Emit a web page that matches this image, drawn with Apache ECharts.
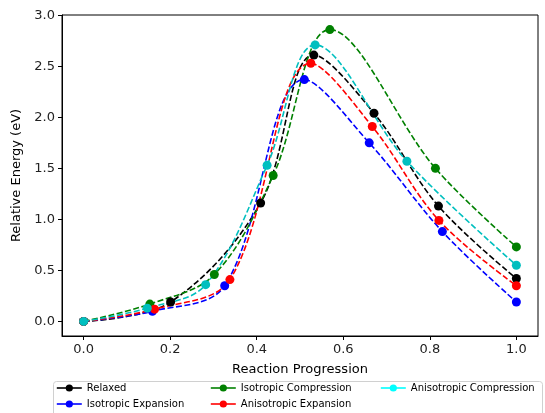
<!DOCTYPE html>
<html>
<head>
    <meta charset="utf-8">
    <title>Reaction energy profile</title>
    <script src="https://cdn.jsdelivr.net/npm/echarts@6/dist/echarts.min.js"></script>
    <style>
        body { margin: 0; background: #fff; }
    </style>
</head>
<body>
    <div id="main" style="width: 545px;height:413px;"></div>
    <script type="text/javascript">
        // series names (legend order, column by column)
        const names = ['Relaxed', 'Isotropic Expansion', 'Isotropic Compression', 'Anisotropic Expansion', 'Anisotropic Compression']
        const colors = ['#000000', '#0000ff', '#008000', '#ff0000', '#00bfbf']
        const legendColors = ['#000000', '#0000ff', '#008000', '#ff0000', '#00ffff']

        // reaction coordinate (x) and relative energy (y)
        const relaxedX = [0, 0.201, 0.409, 0.532, 0.671, 0.820, 1.0]
        const relaxedY = [0, 0.19, 1.16, 2.61, 2.04, 1.13, 0.42]
        const isoExpX = [0, 0.159, 0.326, 0.510, 0.660, 0.829, 1.0]
        const isoExpY = [0, 0.10, 0.35, 2.37, 1.75, 0.88, 0.19]
        const isoCompX = [0, 0.153, 0.302, 0.438, 0.569, 0.813, 1.0]
        const isoCompY = [0, 0.17, 0.46, 1.43, 2.86, 1.50, 0.73]
        const anisoExpX = [0, 0.164, 0.338, 0.525, 0.667, 0.821, 1.0]
        const anisoExpY = [0, 0.12, 0.41, 2.53, 1.91, 0.99, 0.35]
        const anisoCompX = [0, 0.147, 0.282, 0.424, 0.535, 0.747, 1.0]
        const anisoCompY = [0, 0.13, 0.36, 1.53, 2.71, 1.57, 0.55]

        const xTicks = [0, 0.2, 0.4, 0.6, 0.8, 1.0]
        const yTicks = [0, 0.5, 1.0, 1.5, 2.0, 2.5, 3.0]

        const allX = [relaxedX, isoExpX, isoCompX, anisoExpX, anisoCompX]
        const allY = [relaxedY, isoExpY, isoCompY, anisoExpY, anisoCompY]

        let myChart = echarts.init(document.getElementById('main'));

        let series = names.map(function (n, i) {
            return {
                name: n,
                type: 'line',
                smooth: 0.35,
                symbol: 'circle',
                symbolSize: 9,
                showAllSymbol: true,
                itemStyle: { color: colors[i] },
                lineStyle: { color: colors[i], width: 1.6, type: [6, 2.5] },
                emphasis: { disabled: true },
                data: allX[i].map(function (x, k) { return [x, allY[i][k]] })
            }
        })

        const font = 'DejaVu Sans'
        function legendItem(i) {
            return { name: names[i], itemStyle: { color: legendColors[i] }, lineStyle: { color: legendColors[i], type: 'solid', width: 1.6 } }
        }
        const legendBase = {
            orient: 'vertical',
            top: 383,
            padding: 0,
            itemWidth: 25,
            itemHeight: 9,
            itemGap: 6,
            textStyle: { fontFamily: font, fontSize: 10, color: '#000' },
            lineStyle: { type: 'solid' },
            selectedMode: false
        }

        let option = {
            animation: false,
            textStyle: { fontFamily: font },
            grid: {
                left: 62, right: 7, top: 15, bottom: 77,
                show: true, borderColor: '#000', borderWidth: 1
            },
            legend: [
                Object.assign({}, legendBase, { left: 56, data: [legendItem(0), legendItem(1)] }),
                Object.assign({}, legendBase, { left: 210, data: [legendItem(2), legendItem(3)] }),
                Object.assign({}, legendBase, { left: 380, data: [legendItem(4)] })
            ],
            graphic: [{
                type: 'rect',
                shape: { x: 53.5, y: 381.5, width: 489, height: 36, r: 3 },
                style: { fill: 'none', stroke: '#d0d0d0', lineWidth: 1 },
                z: 0
            }],
            xAxis: {
                type: 'value',
                min: -0.05, max: 1.05,
                name: 'Reaction Progression',
                nameLocation: 'middle',
                nameGap: 27,
                nameTextStyle: { fontFamily: font, fontSize: 13, color: '#000' },
                axisLine: { show: true, onZero: false, lineStyle: { color: '#000' } },
                axisTick: { show: true, length: 4, customValues: xTicks, lineStyle: { color: '#000' } },
                axisLabel: {
                    customValues: xTicks, margin: 7,
                    fontFamily: font, fontSize: 13, color: '#222',
                    formatter: function (v) { return v.toFixed(1) }
                },
                splitLine: { show: false }
            },
            yAxis: {
                type: 'value',
                min: -0.143, max: 3.003,
                name: 'Relative Energy (eV)',
                nameLocation: 'middle',
                nameRotate: 90,
                nameGap: 38,
                nameTextStyle: { fontFamily: font, fontSize: 13, color: '#000' },
                axisLine: { show: true, onZero: false, lineStyle: { color: '#000' } },
                axisTick: { show: true, length: 4, customValues: yTicks, lineStyle: { color: '#000' } },
                axisLabel: {
                    customValues: yTicks, margin: 7,
                    fontFamily: font, fontSize: 13, color: '#222',
                    formatter: function (v) { return v.toFixed(1) }
                },
                splitLine: { show: false }
            },
            series: series
        };

        myChart.setOption(option);
    </script>
</body>
</html>
